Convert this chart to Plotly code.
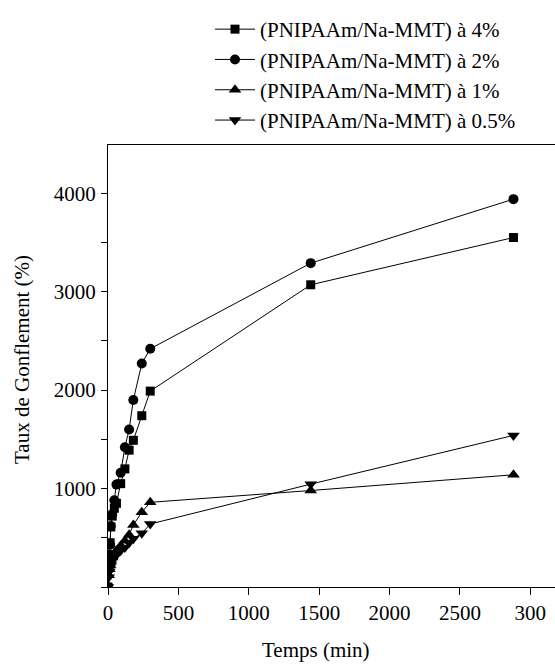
import plotly.graph_objects as go

# Time (min)
temps = [0, 5, 10, 15, 20, 30, 45, 60, 90, 120, 150, 180, 240, 300, 1440, 2880]

# Swelling ratio (%)
taux_4 = [0, 200, 320, 450, 610, 720, 800, 850, 1050, 1200, 1390, 1490, 1740, 1990, 3070, 3550]
taux_2 = [0, 230, 330, 430, 620, 740, 880, 1040, 1160, 1420, 1600, 1900, 2270, 2420, 3290, 3940]
taux_1 = [0, 120, 180, 220, 260, 300, 340, 370, 420, 470, 530, 630, 760, 860, 980, 1140]
taux_05 = [0, 100, 160, 200, 230, 270, 300, 330, 370, 400, 450, 490, 545, 640, 1045, 1540]

series_names = [
    "(PNIPAAm/Na-MMT) à 4%",
    "(PNIPAAm/Na-MMT) à 2%",
    "(PNIPAAm/Na-MMT) à 1%",
    "(PNIPAAm/Na-MMT) à 0.5%",
]
series_values = [taux_4, taux_2, taux_1, taux_05]
symbols = ["square", "circle", "triangle-up", "triangle-down"]
sizes = [9, 10, 11, 11]

x_tickvals = [0, 500, 1000, 1500, 2000, 2500, 3000]
x_ticktext = ["0", "500", "1000", "1500", "2000", "2500", "300"]
y_tickvals = [1000, 2000, 3000, 4000]
y_ticktext = ["1000", "2000", "3000", "4000"]

FONT = "Liberation Serif, Times New Roman, serif"

W, H = 555, 664
L, T, B = 108, 145, 77
PW = W - L
PH = H - T - B

fig = go.Figure()
for name, vals, sym, sz in zip(series_names, series_values, symbols, sizes):
    fig.add_trace(go.Scatter(
        x=temps, y=vals, name=name, mode="lines+markers",
        line=dict(color="black", width=1),
        marker=dict(symbol=sym, size=sz, color="black"),
        legendgroup=name,
    ))

fig.update_layout(
    width=W, height=H,
    margin=dict(l=L, r=0, t=T, b=B, autoexpand=False),
    paper_bgcolor="white", plot_bgcolor="white",
    font=dict(family=FONT, size=21, color="black"),
    showlegend=True,
    legend=dict(
        x=(210 - L) / PW, xanchor="left", y=1 + (T - 9) / PH, yanchor="top",
        font=dict(family=FONT, size=21, color="black"),
        bgcolor="rgba(0,0,0,0)", tracegroupgap=0,
        itemwidth=40,
    ),
    xaxis=dict(
        range=[0, 3175], tickvals=x_tickvals, ticktext=x_ticktext,
        ticks="outside", ticklen=7, tickwidth=1, tickcolor="black",
        showline=True, linecolor="black", linewidth=1, mirror=True,
        showgrid=False, zeroline=False, ticklabelstandoff=0,
        tickfont=dict(family=FONT, size=21),
    ),
    yaxis=dict(
        range=[0, 4490], tickvals=y_tickvals, ticktext=y_ticktext,
        ticks="outside", ticklen=6, tickwidth=1, tickcolor="black",
        minor=dict(dtick=500, tick0=0, ticks="outside", ticklen=6, tickcolor="black"),
        showline=True, linecolor="black", linewidth=1, mirror=False,
        showgrid=False, zeroline=False, ticklabelstandoff=1,
        tickfont=dict(family=FONT, size=21),
    ),
    annotations=[
        dict(text="Temps (min)", xref="paper", yref="paper",
             x=(316 - L) / PW, y=-(650 - 587) / PH, xanchor="center", yanchor="middle",
             showarrow=False, font=dict(family=FONT, size=21)),
        dict(text="Taux de Gonflement (%)", xref="paper", yref="paper",
             x=-(L - 22) / PW, y=(587 - 360) / PH, xanchor="center", yanchor="middle",
             textangle=-90, showarrow=False, font=dict(family=FONT, size=21)),
    ],
)

fig.write_html(
    "out.html",
    config={"displayModeBar": False},
    post_script="document.body.style.margin='0';document.body.style.overflow='hidden';",
)
